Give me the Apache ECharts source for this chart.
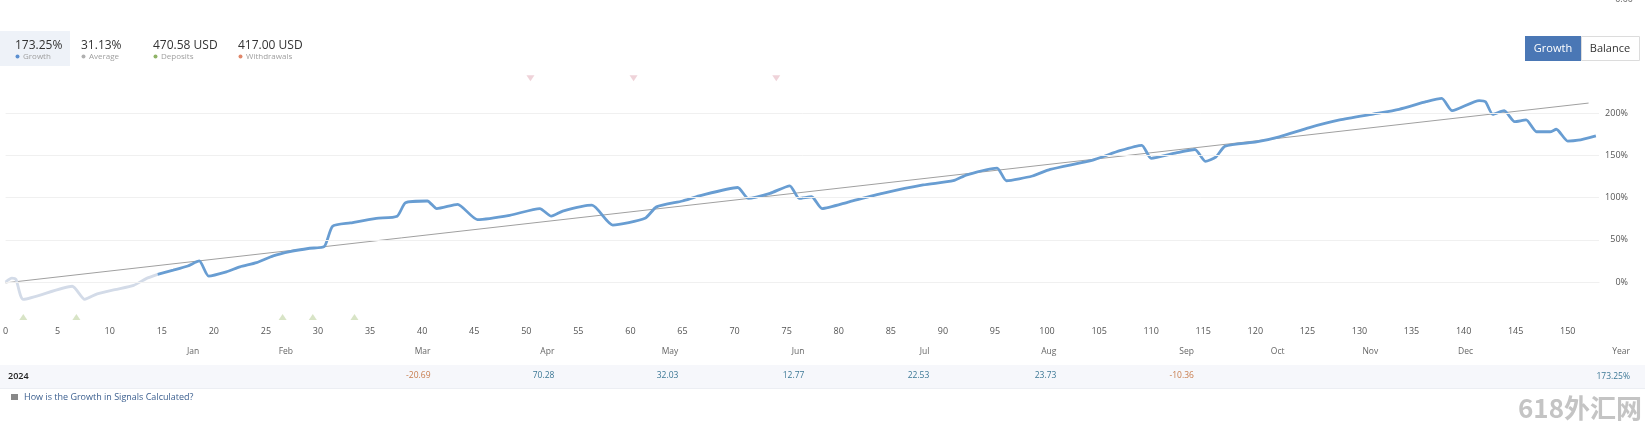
<!DOCTYPE html>
<html><head><meta charset="utf-8">
<script src="https://cdn.jsdelivr.net/npm/echarts@6/dist/echarts.min.js"></script>
<style>html,body{margin:0;padding:0;background:#fff;overflow:hidden}#c{width:1645px;height:428px}</style>
</head><body><div id="c"></div>
<script>
// ---- data ----
const growthPre = [[0,0],[0.6,4.5],[1.0,3],[1.7,-20.5],[6.4,-5],[7.6,-20.5],[8.8,-14],[10.5,-9],[12.3,-4],[13.5,4],[14.6,9]];
const growthMain = [[14.6,9],[16.1,14],[17.5,19],[18.6,25],[19.5,7],[21.2,12],[22.5,18],[24.1,23],[25.7,31],[27.3,36],[29.2,40],[30.6,42],[31.4,66],[33.1,70],[35.6,75.5],[37.6,78],[38.4,94],[40.5,96],[41.4,87],[43.4,92],[45.3,74],[48.4,79],[51.3,87],[52.4,78],[53.5,84],[56.3,91],[58.3,67.5],[61.4,75.5],[62.5,89],[65,96],[66.6,102],[70.3,112],[71.3,99],[73.4,105],[75.3,114],[76.2,99],[77.4,101],[78.4,87],[81,95],[84.2,105],[88.1,115],[91,120],[92.3,127],[95.2,135],[96.1,120],[98.6,125.6],[100.3,133.5],[104.4,144.5],[107,155.6],[109.1,162],[110,146.6],[112.4,153],[114.2,157],[115.2,143],[116.2,148],[117.1,161],[120.1,166],[122.3,172],[125.2,183],[128.1,192],[131.3,199],[133.8,204.6],[136.4,213.6],[137.9,217.6],[138.9,203],[141.5,215],[142.1,213.6],[142.8,198.7],[143.9,203],[144.9,190],[146,192],[147,178],[148.3,178],[148.9,181],[150,167],[151,168],[152.7,173.25]];
const averageLine = [[0,-1],[152,212]];
const depositDays = [1.7,6.8,26.6,29.5,33.5];
const withdrawalDays = [50.4,60.3,74];
const yTickValues = [0,50,100,150,200];
const monthNames = ['Jan','Feb','Mar','Apr','May','Jun','Jul','Aug','Sep','Oct','Nov','Dec'];
const monthPos = [18.6,27.6,40.8,52.7,64.6,76.7,88.7,100.9,114.1,122.8,131.8,140.9];
const monthlyResult = [null,null,-20.69,70.28,32.03,12.77,22.53,23.73,-10.36,null,null,null];
const yearLabel = '2024';
const yearTotal = '173.25%';
const statValues = ['173.25%','31.13%','470.58 USD','417.00 USD'];
const statLabels = ['Growth','Average','Deposits','Withdrawals'];
const statColors = ['#5b8fd0','#b0b0b0','#8fb366','#e0876a'];

// ---- chart ----
const FONT = '"Open Sans", "Noto Sans", sans-serif';
const chart = echarts.init(document.getElementById('c'), null, {renderer:'canvas'});
const findIdx = v => monthPos.findIndex(p => Math.abs(p - v) < 1e-6);
const resultPos = monthPos.filter((p,i) => monthlyResult[i] !== null);

const statX = [15, 81, 153, 238];
const graphics = [];
graphics.push({type:'rect', shape:{x:0,y:31,width:70,height:35}, style:{fill:'#eef2f8'}, z:0});
statValues.forEach((v,i) => {
  graphics.push({type:'text', x:statX[i], y:46, style:{text:v, fill:'#333', font:'12px '+FONT, verticalAlign:'middle'}});
  graphics.push({type:'circle', shape:{cx:statX[i]+2.5, cy:56.5, r:2}, style:{fill:statColors[i]}});
  graphics.push({type:'text', x:statX[i]+8, y:56.5, style:{text:statLabels[i], fill:'#a0a0a0', font:'8px '+FONT, verticalAlign:'middle'}});
});
graphics.push({type:'rect', shape:{x:1581.5,y:36.5,width:58,height:24}, style:{fill:'#fff', stroke:'#dcdcdc', lineWidth:1}});
graphics.push({type:'rect', shape:{x:1525,y:36,width:56,height:25}, style:{fill:'#4a77b5'}});
graphics.push({type:'text', x:1553, y:48.5, style:{text:'Growth', fill:'#fff', font:'11px '+FONT, align:'center', verticalAlign:'middle'}});
graphics.push({type:'text', x:1610, y:48.5, style:{text:'Balance', fill:'#333', font:'11px '+FONT, align:'center', verticalAlign:'middle'}});
graphics.push({type:'text', x:1633, y:-1, style:{text:'0.00', fill:'#666', font:'9px '+FONT, align:'right', verticalAlign:'middle'}});
graphics.push({type:'rect', shape:{x:0,y:365,width:1645,height:23}, style:{fill:'#f6f7fb'}, z:-1});
graphics.push({type:'rect', shape:{x:0,y:388,width:1645,height:1}, style:{fill:'#eceef3'}, z:-1});
graphics.push({type:'text', x:8, y:376.5, style:{text:yearLabel, fill:'#222', font:'600 9px '+FONT, verticalAlign:'middle'}});
graphics.push({type:'text', x:1630, y:352, style:{text:'Year', fill:'#666', font:'8.5px '+FONT, align:'right', verticalAlign:'middle'}});
graphics.push({type:'text', x:1630, y:376.5, style:{text:yearTotal, fill:'#3d7896', font:'8.5px '+FONT, align:'right', verticalAlign:'middle'}});
graphics.push({type:'rect', shape:{x:11,y:394,width:7,height:6}, style:{fill:'#888'}});
graphics.push({type:'text', x:24, y:397.5, style:{text:'How is the Growth in Signals Calculated?', fill:'#3b5f8f', font:'9px '+FONT, verticalAlign:'middle'}});
graphics.push({type:'text', x:1642, y:408, style:{text:'618外汇网', fill:'#c4c4c4', font:'bold 26px "Noto Sans CJK SC", sans-serif', align:'right', verticalAlign:'middle'}});

const option = {
  animation:false,
  backgroundColor:'#fff',
  grid:{left:5, right:46, top:71, bottom:108, containLabel:false},
  xAxis:[
    {type:'value', min:0, max:153, interval:5, position:'bottom',
     axisLine:{show:true, lineStyle:{color:'#ececec'}}, axisTick:{show:false}, splitLine:{show:false},
     axisLabel:{margin:7, fontSize:9, color:'#555', fontFamily:FONT, formatter:v => (v % 5 === 0 ? String(v) : '')}},
    {type:'value', min:0, max:153, position:'bottom',
     axisLine:{show:false}, axisTick:{show:false}, splitLine:{show:false},
     axisLabel:{customValues:monthPos, margin:27, fontSize:8.5, color:'#666', fontFamily:FONT, align:'right',
       formatter:v => { const i = findIdx(v); return i >= 0 ? monthNames[i] : ''; }}},
    {type:'value', min:0, max:153, position:'bottom',
     axisLine:{show:false}, axisTick:{show:false}, splitLine:{show:false},
     axisLabel:{customValues:resultPos, margin:51, fontSize:8.5, fontFamily:FONT, align:'right',
       formatter:v => { const i = findIdx(v); if (i < 0 || monthlyResult[i] === null) return ''; const r = monthlyResult[i];
         return (r < 0 ? '{n|' : '{p|') + r.toFixed(2) + '}'; },
       rich:{n:{color:'#c87d4e', fontSize:8.5, fontFamily:FONT}, p:{color:'#3d7896', fontSize:8.5, fontFamily:FONT}}}}
  ],
  yAxis:{type:'value', min:-45, max:250, position:'right',
    axisLine:{show:false}, axisTick:{show:false}, splitLine:{show:false},
    axisLabel:{customValues:yTickValues, formatter:'{value}%', align:'right', margin:29, fontSize:9, color:'#555', fontFamily:FONT}},
  series:[
    {name:'Average', type:'line', data:averageLine, symbol:'none', silent:true,
     lineStyle:{color:'#a0a0a0', width:1},
     markLine:{silent:true, symbol:'none', label:{show:false},
       lineStyle:{color:'#f0f0f0', width:1, type:'solid'},
       data:yTickValues.map(v => ({yAxis:v}))}},
    {name:'GrowthPre', type:'line', data:growthPre, symbol:'none', smooth:0.2, silent:true,
     lineStyle:{color:'#d3dbe8', width:2.8}},
    {name:'Growth', type:'line', data:growthMain, symbol:'none', smooth:0.2, silent:true,
     lineStyle:{color:'#689dd2', width:2.8}},
    {name:'Deposits', type:'scatter', data:depositDays.map(d => [d, -41.5]), symbol:'triangle', symbolSize:[8,6], silent:true,
     itemStyle:{color:'rgba(190,210,160,0.75)'}},
    {name:'Withdrawals', type:'scatter', data:withdrawalDays.map(d => [d, 241.5]), symbol:'triangle', symbolRotate:180, symbolSize:[8,6], silent:true,
     itemStyle:{color:'rgba(232,190,200,0.85)'}}
  ],
  graphic:graphics
};
chart.setOption(option);
</script>
</body></html>
